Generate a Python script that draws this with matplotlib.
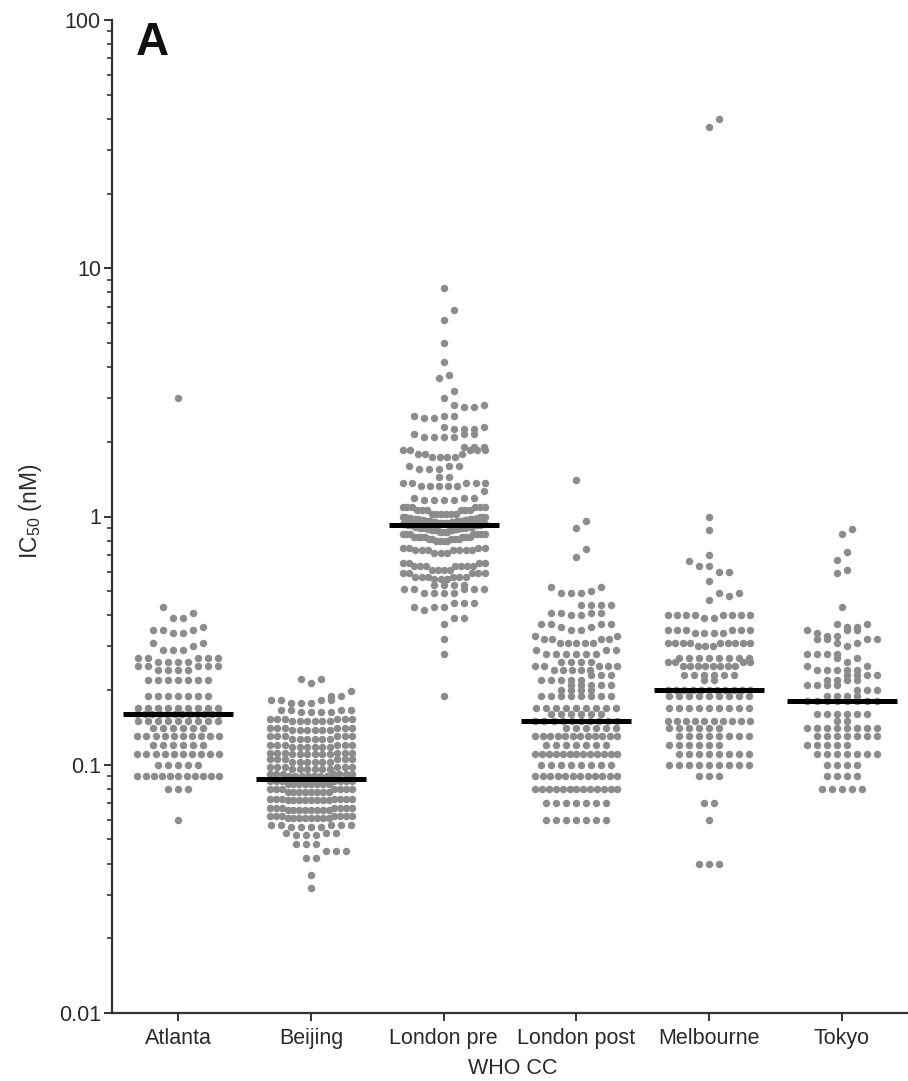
import numpy as np
import matplotlib
matplotlib.use("Agg")
import matplotlib.pyplot as plt

plt.rcParams['font.family'] = ['Liberation Sans', 'DejaVu Sans']
plt.rcParams['mathtext.fontset'] = 'custom'
plt.rcParams['mathtext.rm'] = 'Liberation Sans'

categories = ["Atlanta", "Beijing", "London pre", "London post", "Melbourne", "Tokyo"]

# IC50 values (nM) with the number of isolates at each value
atlanta_values = [0.06, 0.08, 0.09, 0.10, 0.11, 0.12, 0.13, 0.14, 0.15, 0.16, 0.17, 0.19,
                  0.22, 0.24, 0.25, 0.26, 0.27, 0.29, 0.30, 0.31, 0.34, 0.35, 0.36, 0.39,
                  0.41, 0.43, 3.0]
atlanta_counts = [1, 3, 11, 5, 10, 6, 10, 6, 9, 12, 9, 7,
                  7, 4, 5, 4, 5, 3, 1, 2, 2, 3, 1, 2,
                  1, 1, 1]

beijing_values = [0.032, 0.036, 0.042, 0.045, 0.048, 0.052, 0.053, 0.056, 0.057,
                  0.061, 0.062, 0.066, 0.067, 0.072, 0.073, 0.078, 0.080, 0.084, 0.086,
                  0.090, 0.092, 0.096, 0.098, 0.103, 0.105, 0.110, 0.112, 0.118, 0.120,
                  0.127, 0.130, 0.138, 0.141, 0.150, 0.153, 0.163, 0.166, 0.178, 0.182,
                  0.190, 0.198, 0.214, 0.222]
beijing_counts = [1, 1, 2, 3, 3, 3, 3, 4, 5,
                  8, 7, 8, 7, 8, 7, 8, 7, 8, 7,
                  7, 7, 6, 6, 6, 6, 6, 6, 6, 6,
                  6, 6, 6, 6, 6, 6, 4, 4, 3, 4,
                  2, 1, 1, 2]

london_pre_values = [0.19, 0.28, 0.32, 0.37, 0.39, 0.42, 0.43, 0.45, 0.49, 0.51, 0.53,
                     0.56, 0.57, 0.59, 0.61, 0.63, 0.65, 0.71, 0.73, 0.75, 0.80, 0.81,
                     0.83, 0.85, 0.87, 0.88, 0.89, 0.90, 0.91, 0.92, 0.93, 0.94, 0.95,
                     0.96, 0.97, 0.98, 0.99, 1.0, 1.02, 1.06, 1.09, 1.16, 1.19, 1.27,
                     1.33, 1.37, 1.44, 1.55, 1.6, 1.73, 1.78, 1.85, 1.9, 2.1, 2.15,
                     2.25, 2.3, 2.5, 2.55, 2.75, 2.8, 3.0, 3.2, 3.6, 3.7, 4.2, 5.0,
                     6.2, 6.8, 8.3]
london_pre_counts = [1, 1, 1, 1, 2, 1, 3, 3, 4, 5, 4,
                     3, 6, 5, 4, 7, 4, 3, 7, 4, 4, 5,
                     7, 7, 4, 5, 4, 6, 5, 6, 4, 6, 4,
                     6, 4, 6, 3, 5, 6, 6, 6, 4, 3, 1,
                     5, 5, 2, 3, 3, 4, 3, 5, 3, 4, 3,
                     3, 2, 2, 3, 2, 2, 1, 1, 1, 1, 1, 1,
                     1, 1, 1]

london_post_values = [0.06, 0.07, 0.08, 0.09, 0.10, 0.11, 0.12, 0.13, 0.14, 0.15, 0.16,
                      0.17, 0.19, 0.20, 0.21, 0.22, 0.23, 0.24, 0.25, 0.26, 0.28, 0.29,
                      0.31, 0.32, 0.33, 0.35, 0.36, 0.37, 0.40, 0.41, 0.44, 0.49, 0.50,
                      0.52, 0.69, 0.74, 0.90, 0.96, 1.4]
london_post_counts = [7, 7, 13, 12, 8, 13, 7, 12, 6, 10, 6,
                      9, 8, 4, 5, 5, 3, 5, 5, 4, 6, 3,
                      5, 4, 2, 2, 2, 4, 2, 4, 4, 3, 1,
                      2, 1, 1, 1, 1, 1]

melbourne_values = [0.04, 0.06, 0.07, 0.09, 0.10, 0.11, 0.12, 0.13, 0.14, 0.15, 0.17,
                    0.19, 0.20, 0.22, 0.23, 0.25, 0.26, 0.27, 0.30, 0.31, 0.34, 0.35,
                    0.39, 0.40, 0.46, 0.48, 0.49, 0.55, 0.60, 0.63, 0.66, 0.70, 0.88,
                    1.0, 37.0, 40.0]
melbourne_counts = [3, 1, 2, 3, 9, 8, 6, 8, 6, 10, 9,
                    9, 11, 2, 6, 8, 4, 8, 3, 9, 4, 6,
                    2, 8, 1, 1, 2, 1, 2, 2, 1, 1, 1,
                    1, 1, 1]

tokyo_values = [0.08, 0.09, 0.10, 0.11, 0.12, 0.13, 0.14, 0.15, 0.16, 0.18, 0.19,
                0.20, 0.21, 0.22, 0.23, 0.24, 0.25, 0.26, 0.27, 0.28, 0.30, 0.31,
                0.32, 0.33, 0.34, 0.35, 0.36, 0.37, 0.43, 0.59, 0.61, 0.67, 0.72,
                0.85, 0.89]
tokyo_counts = [5, 4, 4, 7, 5, 7, 8, 2, 6, 8, 4,
                3, 4, 4, 4, 5, 2, 1, 2, 4, 1, 2,
                4, 2, 1, 3, 2, 2, 1, 1, 1, 1, 1,
                1, 1]

medians = [0.16, 0.088, 0.92, 0.15, 0.20, 0.18]

group_values = [atlanta_values, beijing_values, london_pre_values,
                london_post_values, melbourne_values, tokyo_values]
group_counts = [atlanta_counts, beijing_counts, london_pre_counts,
                london_post_counts, melbourne_counts, tokyo_counts]

W, H = 908, 1081
fig = plt.figure(figsize=(W / 100, H / 100), dpi=100)
ax = fig.add_axes([112 / W, 68 / H, (W - 112) / W, 993 / H])
ax.set_yscale('log')
ax.set_ylim(0.01, 100)
ax.set_xlim(-0.5, 5.5)

DOT_STEP = 10.0    # horizontal spacing of dots in a row (px)
ROW_WIDTH = 82.0   # widest row, centre to centre (px)
ROW_SPAN = 7.5     # vertical extent of one row (px)
ROW_GAP = 4.5      # larger vertical gaps start a new row (px)
NEAR_Y = 11.0      # rows closer than this are checked for overlap


def scatter_positions(xc, values):
    vals = np.sort(np.asarray(values, dtype=float))
    ypx = ax.transData.transform(np.column_stack([np.full_like(vals, xc), vals]))[:, 1]
    px_per_unit = ax.transData.transform((1, 1))[0] - ax.transData.transform((0, 1))[0]
    offs = np.zeros_like(vals)
    placed = []  # (offset px, y px)
    n = len(vals)
    start = 0
    while start < n:
        end = start + 1
        while end < n and ypx[end] - ypx[start] <= ROW_SPAN and ypx[end] - ypx[end - 1] <= ROW_GAP:
            end += 1
        m = end - start
        step = DOT_STEP if m == 1 else min(DOT_STEP, ROW_WIDTH / (m - 1))
        slots = (np.arange(m) - (m - 1) / 2) * step
        order = np.argsort(np.abs(slots), kind='stable')
        row_off = slots[order]
        row_y = ypx[start:end]
        # shift short rows sideways if they sit on top of the row below
        shift = 0.0
        if (m - 1) * step + DOT_STEP / 2 <= ROW_WIDTH:
            near = [(o, y) for (o, y) in placed if abs(y - row_y[0]) < NEAR_Y]
            def hits(s):
                return sum(1 for a, ya in zip(row_off + s, row_y) for (o, y) in near
                           if abs(a - o) < 0.9 * DOT_STEP and abs(ya - y) < NEAR_Y)
            if near and hits(0) > 0:
                limit = (ROW_WIDTH - (m - 1) * step) / 2
                best = 0.0
                best_hits = hits(0)
                for k in range(1, 9):
                    for sgn in (1, -1):
                        s = sgn * k * DOT_STEP / 2
                        if abs(s) > limit:
                            continue
                        h = hits(s)
                        if h < best_hits:
                            best, best_hits = s, h
                    if best_hits == 0:
                        break
                shift = best
        row_off = row_off + shift
        offs[start:end] = row_off
        placed.extend(zip(row_off, row_y))
        start = end
    return xc + offs / px_per_unit, vals


for i, (vals, cnts) in enumerate(zip(group_values, group_counts)):
    data = np.repeat(vals, cnts)
    xs, ys = scatter_positions(i, data)
    ax.scatter(xs, ys, s=29, color='#8c8c8c', linewidths=0, zorder=2)
    ax.hlines(medians[i], i - 0.415, i + 0.415, color='black', linewidth=3.6,
              zorder=3, capstyle='butt')

for side in ('top', 'right'):
    ax.spines[side].set_visible(False)
for side in ('left', 'bottom'):
    ax.spines[side].set_linewidth(1.6)
    ax.spines[side].set_color('#333333')

ax.set_xticks(range(len(categories)))
ax.set_xticklabels(categories)
ax.set_yticks([0.01, 0.1, 1, 10, 100])
ax.set_yticklabels(['0.01', '0.1', '1', '10', '100'])
ax.tick_params(axis='both', which='major', labelsize=15.5, colors='#333333',
               labelcolor='#2a2a2a', width=1.4, length=6, direction='out')
ax.tick_params(axis='y', which='minor', length=3.5, width=1.2, colors='#333333')
ax.tick_params(axis='y', which='major', pad=2)
ax.tick_params(axis='x', which='major', pad=5)

fig.text(513 / W, 1 - 1068 / H, 'WHO CC', ha='center', va='center',
         fontsize=15.5, color='#2a2a2a')
fig.text(30 / W, 1 - 511 / H, r'IC$_{\mathrm{50}}$ (nM)', ha='center', va='center',
         rotation=90, fontsize=16.5, color='#2a2a2a')
fig.text(152 / W, 1 - 43 / H, 'A', ha='center', va='center', fontsize=33,
         fontweight='bold', color='#111111')

fig.savefig('out.png', dpi=100)
